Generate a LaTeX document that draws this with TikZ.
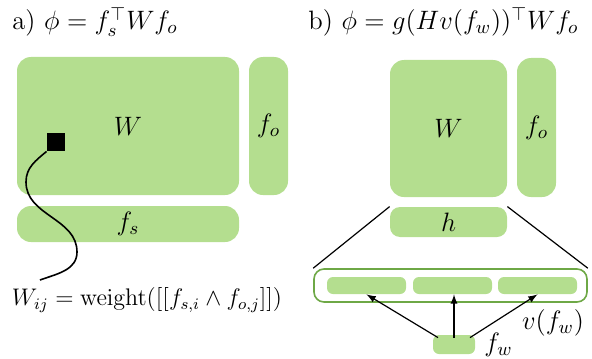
\RequirePackage{fix-cm}
\documentclass[tikz,border=0pt]{standalone}
\usepackage{amsmath,amssymb}
\usepackage{tikz}
\usetikzlibrary{arrows,positioning}

\definecolor{leaf}{RGB}{180,222,143}
\definecolor{leafdark}{RGB}{110,168,70}

\begin{document}
\begin{tikzpicture}[
    x=0.5pt, y=-0.5pt,
    font=\fontsize{13.3}{16}\selectfont,
    cell/.style={rectangle, fill=leaf, rounded corners=7pt, inner sep=0pt},
    slot/.style={rectangle, fill=leaf, rounded corners=3pt, inner sep=0pt},
    title/.style={anchor=west, inner sep=0pt},
    arrow/.style={semithick,->,>=latex}
]
\useasboundingbox (0,0) rectangle (592,358);

% a) bilinear model
\node [title] (titlea) at (12,22) {a)~$\phi = f_s^{\top} W f_o$};
\node [cell, minimum width=111pt, minimum height=69pt] (Wa) at (128,126) {$W$};
\node [cell, minimum width=19.5pt, minimum height=69pt] (foa) at (268.5,126) {$f_o$};
\node [cell, minimum width=111pt, minimum height=18pt] (fsa) at (128,224) {$f_s$};
\node [rectangle, fill=black, minimum size=9pt, inner sep=0pt] (entry) at (56,142) {};
\node [font=\large] (weight) at (147,300) {$W_{ij} = \mathrm{weight}([[f_{s,i} \wedge f_{o,j}]])$};
\coordinate (tail) at (40,280);

\draw [thick] (entry.south west) to[out=-140,in=90] (26,182)
    to[out=-90,in=90] (77,252) to[out=-90,in=20] (tail);

% b) factorized model
\node [title] (titleb) at (308,22) {b)~$\phi = g(Hv(f_w))^{\top} W f_o$};
\node [cell, minimum width=58.5pt, minimum height=68.5pt] (Wb) at (448.5,128.5) {$W$};
\node [cell, minimum width=19.5pt, minimum height=69.5pt] (fob) at (536.5,127.5) {$f_o$};
\node [cell, rounded corners=5pt, minimum width=58.5pt, minimum height=15pt] (h) at (448.5,222) {$h$};
\node [rectangle, draw=leafdark, thick, rounded corners=5pt, minimum width=136.5pt, minimum height=16.5pt] (v) at (450.5,285.5) {};
\node [slot, minimum width=39.5pt, minimum height=8.5pt] (v1) at (366.5,285.5) {};
\node [slot, minimum width=39.5pt, minimum height=8.5pt] (v2) at (452.5,285.5) {};
\node [slot, minimum width=39.5pt, minimum height=8.5pt] (v3) at (537.5,285.5) {};
\node [slot, minimum width=21pt, minimum height=9.5pt] (fw) at (454,344.5) {};
\node [right=1pt of fw] (fwlabel) {$f_w$};
\node (vlabel) at (553,323) {$v(f_w)$};

\draw [semithick] (h.north west) -- (v.north west);
\draw [semithick] (h.north east) -- (v.north east);
\draw [arrow] ([xshift=-8pt,yshift=-1.5pt]fw.north) -- (v1.south);
\draw [arrow] ([yshift=-1.5pt]fw.north) -- (fw.north |- v2.south);
\draw [arrow] ([xshift=8pt,yshift=-1.5pt]fw.north) -- (v3.south);

\end{tikzpicture}
\end{document}
